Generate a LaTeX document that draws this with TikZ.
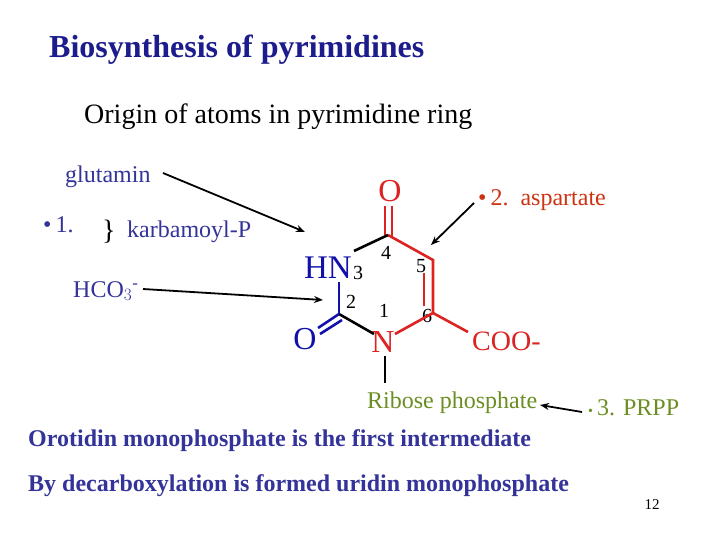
\documentclass[tikz,border=0pt]{standalone}
\usepackage{fontspec}
\usetikzlibrary{arrows.meta}
\setmainfont{Liberation Serif}
\definecolor{tblue}{HTML}{1C1C8C}
\definecolor{bblue}{HTML}{333399}
\definecolor{rred}{HTML}{DD2222}
\definecolor{ored}{HTML}{CC3311}
\definecolor{olive}{HTML}{6B8E23}
\definecolor{rblue}{HTML}{1111AA}
\begin{document}
\begin{tikzpicture}[x=1pt,y=-1pt,
  lbl/.style={inner sep=0pt,anchor=west},
  num/.style={inner sep=0pt,font=\fontsize{20}{20}\selectfont},
  bond/.style={line width=2.6pt},
  arr/.style={line width=1.8pt,-{Stealth[length=9pt,width=7pt]}}]
\useasboundingbox (0,0) rectangle (720,540);
\node[lbl,text=tblue,font=\fontsize{32}{32}\selectfont\bfseries] (title) at (49,50) {Biosynthesis of pyrimidines};
\node[lbl,font=\fontsize{28}{28}\selectfont] (origin) at (84,117) {Origin of atoms in pyrimidine ring};
\node[lbl,text=bblue,font=\fontsize{24}{24}\selectfont] (glu) at (65,177) {glutamin};
\node[lbl,text=bblue,font=\fontsize{24}{24}\selectfont] (one) at (43,225) {\textbullet\,1.};
\node[lbl,text=black,font=\fontsize{28}{28}\selectfont] (brace) at (102,232) {\}};
\node[lbl,text=bblue,font=\fontsize{24}{24}\selectfont] (karb) at (127,232) {karbamoyl-P};
\node[lbl,text=bblue,font=\fontsize{24}{24}\selectfont] (hco) at (73,291) {HCO$_3$\textsuperscript{-}};
% ring texts
\node[inner sep=0pt,text=rred,font=\fontsize{32}{32}\selectfont] (o4) at (390,191) {O};
\node[inner sep=0pt,text=rblue,font=\fontsize{33}{33}\selectfont] (hn) at (328,268) {HN};
\node[inner sep=0pt,text=rblue,font=\fontsize{32}{32}\selectfont] (o2) at (305,339) {O};
\node[inner sep=0pt,text=rred,font=\fontsize{32}{32}\selectfont] (n1) at (383,342) {N};
\node[lbl,text=rred,font=\fontsize{28}{28}\selectfont] (coo) at (472,341) {COO-};
\node[num] (n3) at (358,273) {3};
\node[num] (n4) at (386,253) {4};
\node[num] (n5) at (421,266) {5};
\node[num] (n2) at (351,302) {2};
\node[num] (nn1) at (384,311) {1};
\node[num] (n6) at (427,316) {6};
\node[lbl,text=ored,font=\fontsize{24}{24}\selectfont] (asp) at (478,200) {\textbullet\,2.\ \ aspartate};
\node[lbl,text=olive,font=\fontsize{24}{24}\selectfont] (rib) at (367,403) {Ribose phosphate};
\node[lbl,text=olive,font=\fontsize{24}{24}\selectfont] (prpp) at (588,408) {{\fontsize{14}{14}\selectfont\textbullet}\,3. PRPP};
\node[lbl,text=bblue,font=\fontsize{24}{24}\selectfont\bfseries] (oro) at (28,441) {Orotidin monophosphate is the first intermediate};
\node[lbl,text=bblue,font=\fontsize{24}{24}\selectfont\bfseries] (dec) at (28,486) {By decarboxylation is formed uridin monophosphate};
\node[inner sep=0pt,font=\fontsize{15}{15}\selectfont] (pg) at (652,505) {12};
% atoms coordinates
\coordinate (c4) at (388,235);
\coordinate (c5) at (433,260);
\coordinate (c6) at (433,313);
\coordinate (c2) at (339,314);
% bonds
\draw[bond,rred] (385,206) -- (385,235) (392,206) -- (392,237);
\draw[bond,rred] (c4) -- (c5) -- (c6) -- (395,334);
\draw[bond,rred] (424,273) -- (424,306);
\draw[bond,rred] (c6) -- (468,332);
\draw[bond,black] (354,251) -- (c4);
\draw[bond,black] (c2) -- (374,334);
\draw[bond,rblue] (339,282) -- (c2);
\draw[bond,rblue] (c2) -- (318,328) (342,320) -- (320,334);
\draw[bond,black] (385,356) -- (385,383);
% arrows
\draw[arr] (163,173) -- (305,232);
\draw[arr] (143,289) -- (323,300);
\draw[arr] (474,203) -- (431,245);
\draw[arr] (582,412) -- (540,405);
\end{tikzpicture}
\end{document}
